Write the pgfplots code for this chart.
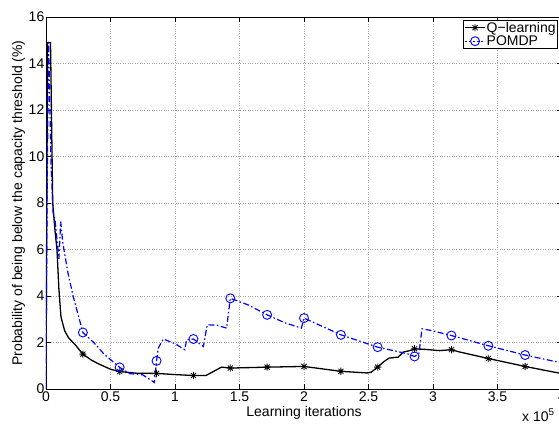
\documentclass[border=0pt]{standalone}
\usepackage{fontspec}
\setmainfont{Liberation Sans}
\usepackage{pgfplots}
\pgfplotsset{compat=1.18}

% MATLAB-style asterisk: a plus and a cross combined
\pgfdeclareplotmark{mstar}{%
  \pgfpathmoveto{\pgfqpoint{-\pgfplotmarksize}{0pt}}\pgfpathlineto{\pgfqpoint{\pgfplotmarksize}{0pt}}%
  \pgfpathmoveto{\pgfqpoint{0pt}{-\pgfplotmarksize}}\pgfpathlineto{\pgfqpoint{0pt}{\pgfplotmarksize}}%
  \pgfpathmoveto{\pgfqpoint{-0.707\pgfplotmarksize}{-0.707\pgfplotmarksize}}\pgfpathlineto{\pgfqpoint{0.707\pgfplotmarksize}{0.707\pgfplotmarksize}}%
  \pgfpathmoveto{\pgfqpoint{-0.707\pgfplotmarksize}{0.707\pgfplotmarksize}}\pgfpathlineto{\pgfqpoint{0.707\pgfplotmarksize}{-0.707\pgfplotmarksize}}%
  \pgfusepathqstroke}

\newcommand{\labfont}{\fontsize{14}{16}\selectfont}

% Q-learning curve (iterations in units of 10^5)
\pgfplotstableread{
x y
0 0
0.012 14.9
0.035 14.9
0.052 8.0
0.07 6.8
0.085 6.0
0.10 4.3
0.116 3.1
0.145 2.5
0.175 2.2
0.227 1.9
0.286 1.5
0.35 1.25
0.4 1.1
0.5 0.85
0.571 0.75
0.7 0.68
0.857 0.67
1.0 0.62
1.143 0.58
1.24 0.58
1.36 0.94
1.429 0.90
1.714 0.94
2.0 0.97
2.286 0.76
2.49 0.69
2.52 0.72
2.571 0.94
2.62 1.18
2.66 1.33
2.73 1.37
2.77 1.59
2.82 1.65
2.857 1.73
2.95 1.70
3.05 1.65
3.143 1.69
3.2 1.60
3.43 1.31
3.714 0.97
4.0 0.66
}\qdata

% Q-learning marker positions
\pgfplotstableread{
x y
0.286 1.5
0.571 0.75
0.857 0.67
1.143 0.58
1.429 0.90
1.714 0.94
2.0 0.97
2.286 0.76
2.571 0.94
2.857 1.73
3.143 1.69
3.429 1.31
3.714 0.97
}\qmarks

% POMDP curve
\pgfplotstableread{
x y
0 0
0.008 8
0.02 14.9
0.04 9.5
0.055 7.6
0.07 7.3
0.10 5.6
0.114 7.2
0.13 6.3
0.17 5.0
0.21 4.0
0.286 2.43
0.37 2.0
0.45 1.5
0.571 0.93
0.65 0.66
0.75 0.61
0.84 0.28
0.857 1.21
0.87 1.76
0.91 2.15
1.0 1.95
1.076 1.69
1.09 2.12
1.143 2.15
1.22 1.83
1.25 2.76
1.32 2.75
1.40 2.62
1.429 3.9
1.566 3.62
1.714 3.19
1.85 2.85
1.98 2.62
2.0 3.05
2.286 2.33
2.571 1.8
2.8 1.52
2.857 1.4
2.89 1.5
2.915 2.59
3.0 2.50
3.143 2.3
3.429 1.86
3.714 1.46
4.0 1.12
}\pdata

% POMDP marker positions
\pgfplotstableread{
x y
0.286 2.43
0.571 0.93
0.857 1.21
1.143 2.15
1.429 3.9
1.714 3.19
2.0 3.05
2.286 2.33
2.571 1.8
2.857 1.4
3.143 2.3
3.429 1.86
3.714 1.46
}\pmarks

\begin{document}
\begin{tikzpicture}
\begin{axis}[
  name=ax,
  at={(0pt,0pt)}, anchor=south west,
  scale only axis, width=516pt, height=372pt,
  xmin=0, xmax=4, ymin=0, ymax=16,
  xtick={0,0.5,...,4}, ytick={0,2,...,16},
  xticklabels={0,0.5,1,1.5,2,2.5,3,3.5,4},
  /pgf/number format/assume math mode=true,
  tick label style={font=\labfont},
  yticklabel style={inner xsep=1.5pt},
  xticklabel style={inner ysep=3pt},
  tick align=inside, major tick length=5pt,
  xtick pos=both, ytick pos=both,
  tick style={black, line width=0.6pt},
  axis line style={black, line width=0.8pt},
  grid=major,
  major grid style={dotted, gray!70, line width=0.6pt},
  xlabel={Learning iterations},
  ylabel={Probability of being below the capacity threshold (\%)},
  label style={font=\labfont},
  xlabel style={at={(axis description cs:0.5,-0.0726)}, anchor=base},
  ylabel style={at={(axis description cs:-0.0465,0.5)}, anchor=base, rotate=0},
  legend style={at={(rel axis cs:1,1)}, anchor=north east, xshift=-4pt, yshift=-3pt,
    draw=black, line width=0.8pt, font=\labfont, fill=white,
    inner xsep=1pt, inner ysep=0.5pt, row sep=0pt,
    nodes={inner sep=1pt}, cells={anchor=west}},
  legend image code/.code={%
    \draw[#1] (0pt,0pt) -- (20pt,0pt);
    \draw[#1, solid] plot coordinates {(10pt,0pt)};},
]
\addplot[black, line width=1.3pt, no marks, forget plot] table {\qdata};
\addplot[black, line width=0.8pt, only marks, mark=mstar, mark size=3.6pt, forget plot] table {\qmarks};
\addplot[blue, line width=1.2pt, no marks, dash pattern=on 6pt off 2.5pt on 1.5pt off 2.5pt, forget plot] table {\pdata};
\addplot[blue, line width=0.9pt, only marks, mark=o, mark size=4.5pt, forget plot] table {\pmarks};
\addlegendimage{black, line width=1.3pt, mark=mstar, mark size=3.6pt, mark options={line width=0.8pt}}
\addlegendentry{Q−learning}
\addlegendimage{blue, line width=1.2pt, dash pattern=on 2pt off 2pt, mark=o, mark size=4.5pt, mark options={line width=0.9pt}}
\addlegendentry{POMDP}
\end{axis}
% axis scale factor, set at the lower right below the tick labels
\node[anchor=base west, font=\labfont, inner sep=0pt] at ([xshift=-40pt, yshift=-32pt]ax.south east) {x 10\textsuperscript{5}};
\pgfresetboundingbox
\useasboundingbox (-46pt,-36pt) rectangle (513pt,389pt);
\end{tikzpicture}
\end{document}
